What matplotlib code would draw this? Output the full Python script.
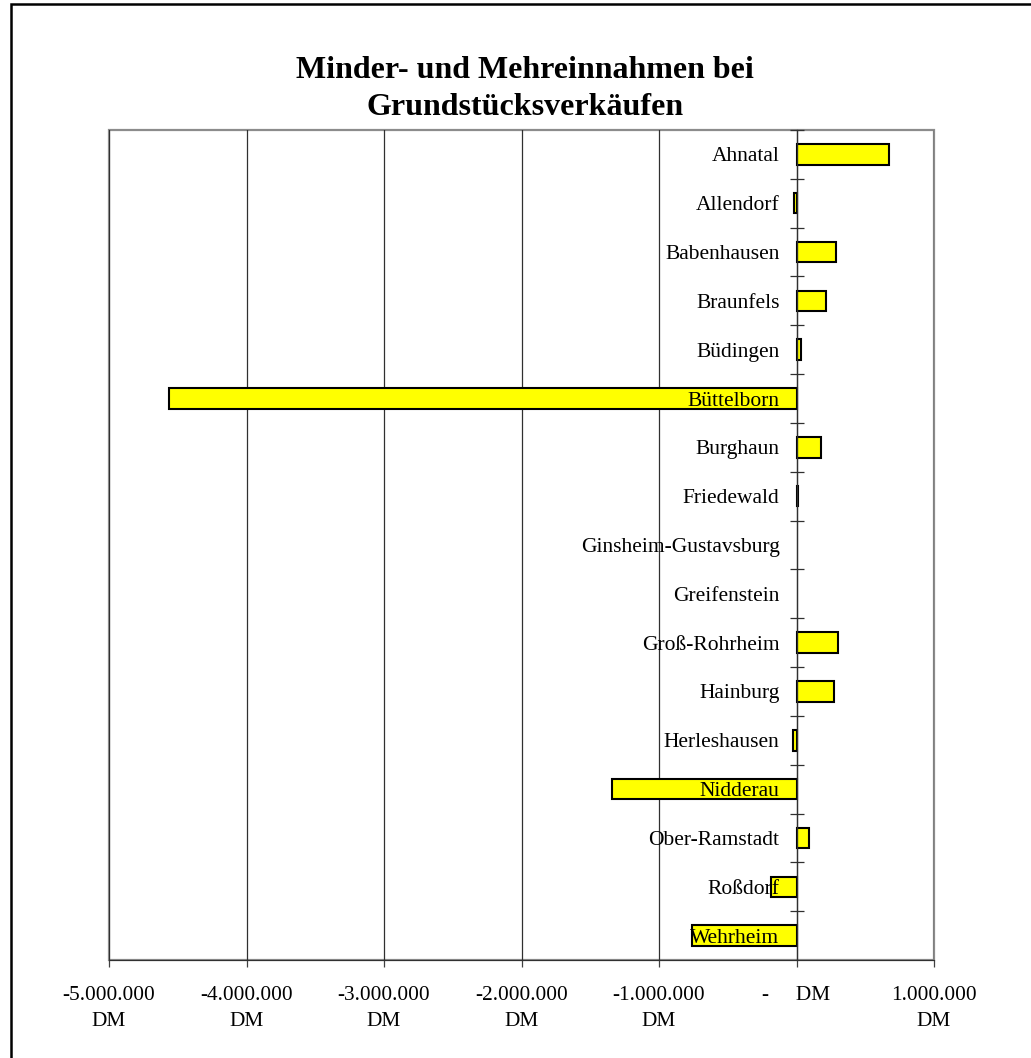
import matplotlib.pyplot as plt
from matplotlib.patches import Rectangle

gemeinden = ["Ahnatal", "Allendorf", "Babenhausen", "Braunfels", "Büdingen",
             "Büttelborn", "Burghaun", "Friedewald", "Ginsheim-Gustavsburg",
             "Greifenstein", "Groß-Rohrheim", "Hainburg", "Herleshausen",
             "Nidderau", "Ober-Ramstadt", "Roßdorf", "Wehrheim"]
differenz = [670000, -15000, 286000, 215000, 34000,
             -4565000, 177000, 10000, 0,
             0, 303000, 274000, -25000,
             -1345000, 90000, -187000, -759000]

x_ticks = [-5000000, -4000000, -3000000, -2000000, -1000000, 0, 1000000]
x_labels = ["-5.000.000\nDM", "-4.000.000\nDM", "-3.000.000\nDM",
            "-2.000.000\nDM", "-1.000.000\nDM", "-     DM", "1.000.000\nDM"]

plt.rcParams["font.family"] = ["Liberation Serif", "DejaVu Serif"]

W, H = 1031, 1058
fig = plt.figure(figsize=(W / 100, H / 100), dpi=100)
ax = fig.add_axes([109 / W, 1 - 960 / H, (934 - 109) / W, (960 - 130) / H])

pos = list(range(len(gemeinden)))
# no outline for empty bars
lw = [1.5 if v != 0 else 0 for v in differenz]
ax.barh(pos, differenz, height=0.42, color="#FFFF00", edgecolor="black",
        linewidth=lw, zorder=2)

ax.set_xlim(-5000000, 1000000)
ax.set_ylim(len(gemeinden) - 0.5, -0.5)

# vertical gridlines behind bars, category labels on top
ax.set_axisbelow(True)
ax.yaxis.set_zorder(3)
ax.xaxis.grid(True, color="#303030", linewidth=0.9)

ax.set_xticks(x_ticks)
ax.set_xticklabels(x_labels, fontsize=15.4, linespacing=1.45)
ax.tick_params(axis="x", direction="out", length=5, width=0.9,
               color="#404040", pad=14)

# category axis sits at zero
ax.spines["left"].set_position(("data", 0))
ax.spines["left"].set_color("#303030")
ax.spines["left"].set_linewidth(0.9)
ax.spines["bottom"].set_color("#303030")
for s in ["top", "right"]:
    ax.spines[s].set_visible(False)
ax.add_patch(Rectangle((0, 0), 1, 1, transform=ax.transAxes, fill=False,
                       edgecolor="#8c8c8c", linewidth=1.6, zorder=0.5,
                       clip_on=False))

ax.set_yticks(pos)
ax.set_yticklabels(gemeinden, fontsize=15.5)
ax.set_yticks([p + 0.5 for p in pos[:-1]] + [-0.5], minor=True)
ax.tick_params(axis="y", which="major", length=0, pad=12.2)
ax.tick_params(axis="y", which="minor", direction="inout", length=9.5,
               width=0.9, color="#303030")

fig.text(525 / W, 1 - 89 / H, "Minder- und Mehreinnahmen bei\nGrundstücksverkäufen",
         ha="center", va="center", fontsize=23, fontweight="bold",
         linespacing=1.35)

# outer chart frame
fig.patches.append(Rectangle((11 / W, -0.05), 1.1, 1.05 - 4 / H,
                             transform=fig.transFigure, fill=False,
                             edgecolor="black", linewidth=1.8))

fig.savefig("out.png", dpi=100)
